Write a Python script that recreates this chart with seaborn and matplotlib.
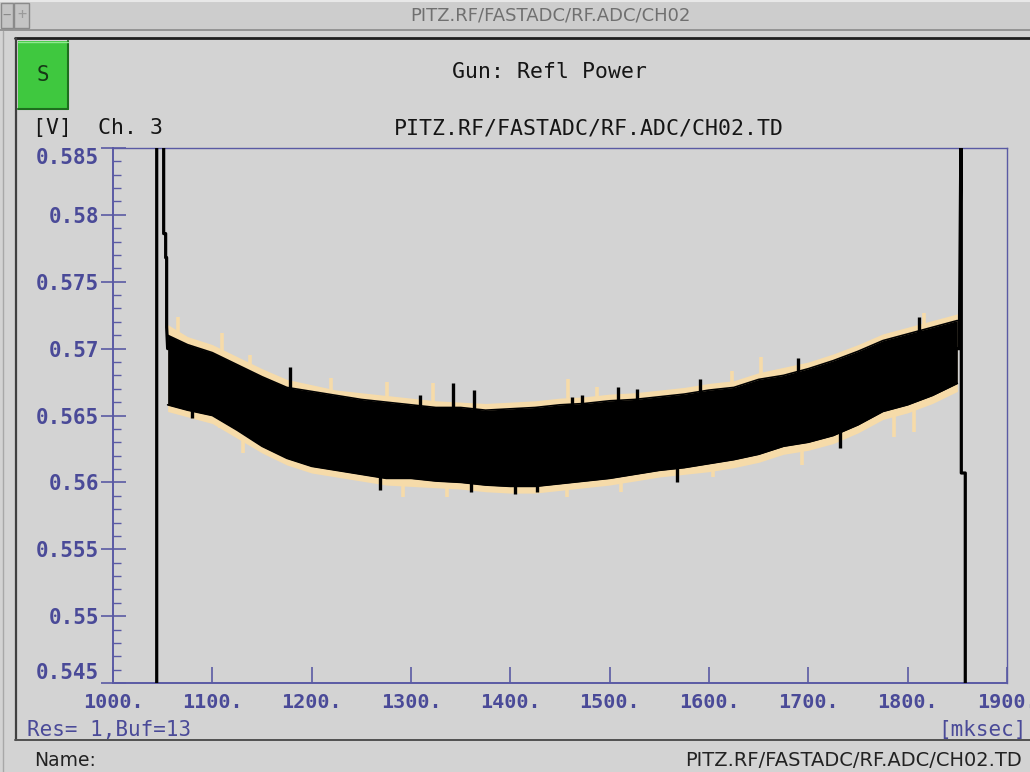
import numpy as np
import pandas as pd
import matplotlib
matplotlib.use("Agg")
import matplotlib.pyplot as plt
import seaborn as sns
from matplotlib.patches import Rectangle
from matplotlib.lines import Line2D
from matplotlib.ticker import FixedLocator, MultipleLocator, FuncFormatter

# ---------------- data ----------------
t_knots = [1055, 1075, 1100, 1125, 1150, 1175, 1200, 1225, 1250, 1275, 1300,
           1325, 1350, 1375, 1400, 1425, 1450, 1475, 1500, 1525, 1550, 1575,
           1600, 1625, 1650, 1675, 1700, 1725, 1750, 1775, 1800, 1825, 1850]
black_top = [0.5710, 0.5703, 0.5697, 0.5688, 0.5679, 0.5671, 0.5668, 0.5665, 0.5662,
             0.5660, 0.5658, 0.5656, 0.5656, 0.5654, 0.5655, 0.5656, 0.5658, 0.5659,
             0.5661, 0.5662, 0.5664, 0.5666, 0.5669, 0.5671, 0.5677, 0.5680, 0.5685,
             0.5691, 0.5698, 0.5706, 0.5711, 0.5716, 0.5721]
black_bot = [0.5658, 0.5654, 0.5650, 0.5639, 0.5627, 0.5618, 0.5612, 0.5609, 0.5606,
             0.5603, 0.5603, 0.5601, 0.5600, 0.5598, 0.5597, 0.5597, 0.5599, 0.5601,
             0.5603, 0.5606, 0.5609, 0.5611, 0.5614, 0.5617, 0.5621, 0.5627, 0.5630,
             0.5635, 0.5643, 0.5653, 0.5658, 0.5665, 0.5674]
beige_top = [0.5718, 0.5709, 0.5703, 0.5694, 0.5685, 0.5677, 0.5673, 0.5669, 0.5667,
             0.5665, 0.5663, 0.5661, 0.5660, 0.5659, 0.5660, 0.5661, 0.5663, 0.5664,
             0.5666, 0.5667, 0.5669, 0.5671, 0.5674, 0.5676, 0.5682, 0.5686, 0.5690,
             0.5696, 0.5703, 0.5711, 0.5716, 0.5721, 0.5726]
beige_bot = [0.5653, 0.5649, 0.5644, 0.5633, 0.5622, 0.5613, 0.5607, 0.5604, 0.5601,
             0.5598, 0.5597, 0.5596, 0.5595, 0.5593, 0.5592, 0.5592, 0.5594, 0.5596,
             0.5598, 0.5601, 0.5604, 0.5606, 0.5608, 0.5611, 0.5615, 0.5621, 0.5624,
             0.5629, 0.5637, 0.5647, 0.5652, 0.5659, 0.5668]

# isolated noise spikes sticking out of the band (black trace)
spike_t = [1080, 1178, 1269, 1309, 1342, 1360, 1363, 1405, 1427, 1462, 1472,
           1508, 1528, 1568, 1591, 1690, 1732, 1811]
spike_v = [0.5648, 0.5686, 0.5594, 0.5665, 0.5674, 0.5593, 0.5669, 0.5591, 0.5593,
           0.5664, 0.5665, 0.5671, 0.5670, 0.5600, 0.5677, 0.5693, 0.5626, 0.5724]

# spikes of the second (beige) trace
bspike_t = [1065, 1108, 1110, 1131, 1138, 1219, 1276, 1292, 1322, 1336, 1457,
            1458, 1487, 1511, 1604, 1623, 1652, 1694, 1786, 1806, 1816]
bspike_v = [0.5724, 0.5641, 0.5712, 0.5622, 0.5695, 0.5678, 0.5675, 0.5589, 0.5674,
            0.5589, 0.5589, 0.5677, 0.5671, 0.5593, 0.5604, 0.5683, 0.5694, 0.5613,
            0.5634, 0.5638, 0.5727]

# rising / falling edges of the pulse
left_t = [1000, 1044, 1044, 1051, 1051, 1053, 1053, 1054, 1054, 1055]
left_v = [0.540, 0.540, 0.590, 0.590, 0.5786, 0.5786, 0.5768, 0.5768, 0.5716, 0.5700]
right_t = [1850, 1852, 1854, 1854, 1858, 1858, 1900]
right_v = [0.5700, 0.5700, 0.590, 0.5607, 0.5607, 0.540, 0.540]

x_ticks = [1000, 1100, 1200, 1300, 1400, 1500, 1600, 1700, 1800, 1900]
y_ticks = [0.545, 0.55, 0.555, 0.56, 0.565, 0.57, 0.575, 0.58, 0.585]

# ---------------- style ----------------
BG = "#d3d3d3"
AXC = "#5a5aa4"
LABC = "#4a4a98"
BEIGE = "#f6dba9"

sns.set_theme(style="white")
plt.rcParams["font.family"] = ["DejaVu Sans Mono", "DejaVu Sans"]

W, H = 1030, 772
fig = plt.figure(figsize=(W / 100, H / 100), dpi=100)
fig.patch.set_facecolor(BG)

def fx(px):
    return px / W

def fy(py):
    return 1 - py / H

ax = fig.add_axes([fx(113), fy(683), fx(1007) - fx(113), fy(148) - fy(683)])
ax.set_facecolor(BG)

mid = (np.array(black_top) + np.array(black_bot)) / 2

# beige trace (behind)
ax.fill_between(t_knots, beige_bot, beige_top, color=BEIGE, lw=0, zorder=2)
bbase = np.interp(bspike_t, t_knots, mid)
ax.vlines(bspike_t, bbase, bspike_v, color=BEIGE, lw=2.6, zorder=2)

# black trace
ax.fill_between(t_knots, black_bot, black_top, color="black", lw=0, zorder=3)
df_top = pd.DataFrame({"t": t_knots, "v": black_top})
df_bot = pd.DataFrame({"t": t_knots, "v": black_bot})
sns.lineplot(data=df_top, x="t", y="v", ax=ax, color="black", lw=1.2, zorder=4)
sns.lineplot(data=df_bot, x="t", y="v", ax=ax, color="black", lw=1.2, zorder=4)
base = np.interp(spike_t, t_knots, mid)
ax.vlines(spike_t, base, spike_v, color="black", lw=2.4, zorder=4)

sns.lineplot(x=left_t, y=left_v, ax=ax, color="black", lw=2.3, sort=False,
             estimator=None, zorder=5)
sns.lineplot(x=right_t, y=right_v, ax=ax, color="black", lw=2.3, sort=False,
             estimator=None, zorder=5)

ax.set_xlim(1000, 1900)
ax.set_ylim(0.545, 0.585)
ax.set_xlabel("")
ax.set_ylabel("")

for s in ["top", "right"]:
    ax.spines[s].set_color(AXC)
    ax.spines[s].set_linewidth(1.0)
for s in ["left", "bottom"]:
    ax.spines[s].set_color(AXC)
    ax.spines[s].set_linewidth(1.4)

ax.xaxis.set_major_locator(FixedLocator(x_ticks))
ax.yaxis.set_major_locator(FixedLocator(y_ticks))
ax.yaxis.set_minor_locator(MultipleLocator(0.001))
ax.xaxis.set_major_formatter(FuncFormatter(lambda v, p: f"{v:.0f}."))
ax.yaxis.set_major_formatter(FuncFormatter(lambda v, p: f"{v:g}"))

ax.tick_params(axis="x", which="major", direction="in", length=11.5, width=1.2,
               color=AXC, labelcolor=LABC, labelsize=14.5, pad=7,
               bottom=True, top=False)
ax.tick_params(axis="y", which="major", direction="inout", length=18, width=1.2,
               color=AXC, labelcolor=LABC, labelsize=15, pad=1,
               left=True, right=False)
ax.tick_params(axis="y", which="minor", direction="in", length=5.5, width=1.0,
               color=AXC, left=True, right=False)
ax.tick_params(axis="x", which="minor", bottom=False, top=False)

for lab in ax.get_xticklabels() + ax.get_yticklabels():
    lab.set_fontweight("bold")
ylabs = ax.get_yticklabels()
ylabs[0].set_verticalalignment("bottom")
ylabs[-1].set_verticalalignment("top")

# ---------------- window decoration ----------------
def frect(x0, y0, x1, y1, **kw):
    fig.add_artist(Rectangle((fx(x0), fy(y1)), fx(x1) - fx(x0), fy(y0) - fy(y1),
                             transform=fig.transFigure, **kw))

def fline(x0, y0, x1, y1, **kw):
    fig.add_artist(Line2D([fx(x0), fx(x1)], [fy(y0), fy(y1)],
                          transform=fig.transFigure, **kw))

# title bar
frect(0, 0, W, 31, facecolor="#cdcdcd", edgecolor="none")
fline(0, 1, W, 1, color="#e8e8e8", lw=1.5)
fline(0, 30, W, 30, color="#8a8a8a", lw=1.2)
frect(1, 3, 13, 28, facecolor="#c4c4c4", edgecolor="#8a8a8a", lw=1)
frect(14, 3, 29, 28, facecolor="#c4c4c4", edgecolor="#8a8a8a", lw=1)
fig.text(fx(7), fy(15), "\u2212", ha="center", va="center", color="#8a8a8a",
         fontsize=10)
fig.text(fx(21.5), fy(15), "+", ha="center", va="center", color="#9a9a9a",
         fontsize=11)
fig.text(fx(550), fy(16), "PITZ.RF/FASTADC/RF.ADC/CH02", ha="center", va="center",
         color="#707070", fontsize=13,
         family=["Liberation Sans Narrow", "DejaVu Sans"])

# dark frame lines
fline(15, 38, W, 38, color="#202020", lw=2.0)
fline(16, 38, 16, 740, color="#404040", lw=1.6)
fline(15, 740, W, 740, color="#505050", lw=1.4)
fline(3, 31, 3, 772, color="#a8a8a8", lw=1.0)

# green button
frect(18, 41, 68, 109, facecolor="#3fc83f", edgecolor="none")
fline(18, 108.5, 68, 108.5, color="#1e6e1e", lw=1.5)
fline(67.5, 41, 67.5, 109, color="#1e6e1e", lw=1.5)
fline(18, 41.5, 68, 41.5, color="#8fe88f", lw=1.0)
fig.text(fx(43), fy(75), "S", ha="center", va="center", color="#163816",
         fontsize=15)

# header texts
fig.text(fx(550), fy(72), "Gun: Refl Power", ha="center", va="center",
         color="#151515", fontsize=15.5)
fig.text(fx(33), fy(128), "[V]  Ch. 3", ha="left", va="center",
         color="#151515", fontsize=15.5)
fig.text(fx(589), fy(128), "PITZ.RF/FASTADC/RF.ADC/CH02.TD", ha="center",
         va="center", color="#151515", fontsize=15.5)

# footer texts
fig.text(fx(27), fy(730), "Res= 1,Buf=13", ha="left", va="center",
         color=LABC, fontsize=15)
fig.text(fx(1027), fy(730), "[mksec]", ha="right", va="center",
         color=LABC, fontsize=15)
fig.text(fx(34), fy(760), "Name:", ha="left", va="center", color="#222222",
         fontsize=13.5, family=["Liberation Sans Narrow", "DejaVu Sans"])
fig.text(fx(1022), fy(760), "PITZ.RF/FASTADC/RF.ADC/CH02.TD", ha="right",
         va="center", color="#222222", fontsize=14,
         family=["Liberation Sans Narrow", "DejaVu Sans"])

fig.savefig("out.png", dpi=100, facecolor=fig.get_facecolor())
